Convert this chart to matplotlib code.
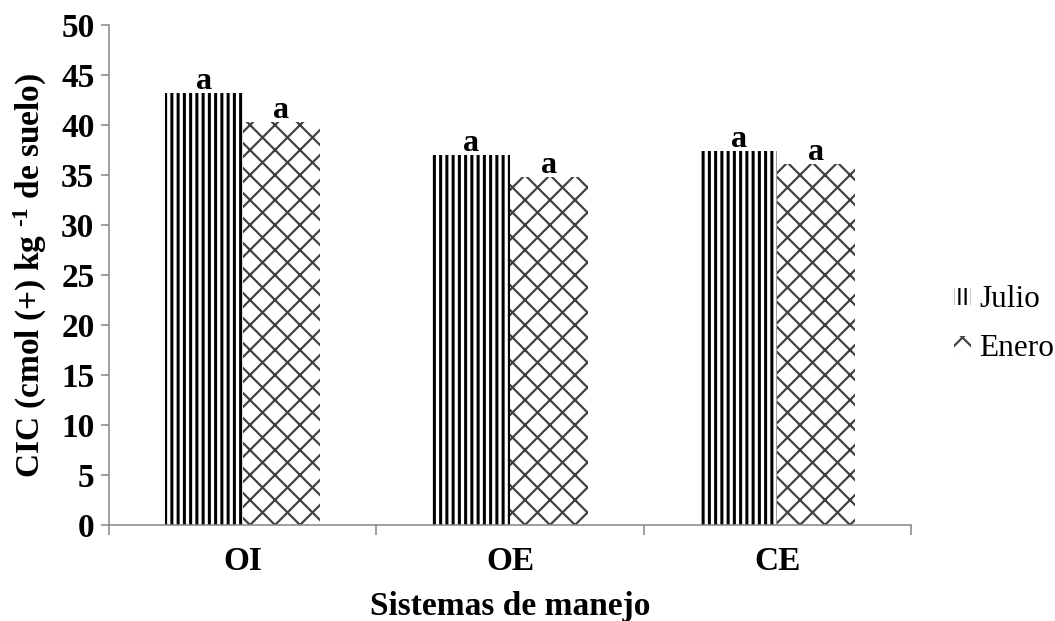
import matplotlib
matplotlib.use("Agg")
import matplotlib.pyplot as plt
import numpy as np
from matplotlib.patches import Patch

# data
sistemas = ["OI", "OE", "CE"]
julio = [43.2, 37.0, 37.4]
enero = [40.3, 34.8, 36.1]
letras_julio = ["a", "a", "a"]
letras_enero = ["a", "a", "a"]
series = ["Julio", "Enero"]

plt.rcParams["font.family"] = ["Liberation Serif", "DejaVu Serif"]
plt.rcParams["font.weight"] = "bold"
plt.rcParams["mathtext.fontset"] = "custom"
plt.rcParams["mathtext.rm"] = "Liberation Serif:bold"
plt.rcParams["mathtext.bf"] = "Liberation Serif:bold"
plt.rcParams["mathtext.it"] = "Liberation Serif:bold"
plt.rcParams["hatch.linewidth"] = 1.05

# dpi 150 so the hatch spacing comes out like the original
DPI = 150
fig = plt.figure(figsize=(1055 / DPI, 621 / DPI), dpi=DPI)
ax = fig.add_axes([109 / 1055, 1 - 525 / 621, 802 / 1055, 500 / 621])

x = np.arange(len(sistemas))
w = 0.29
hatch_j = "||||"
hatch_e = "xx"
with plt.rc_context({"hatch.linewidth": 1.45}):
    ax.bar(x - w / 2, julio, w, color="white", edgecolor="black", hatch=hatch_j, linewidth=0)
    h_j = Patch(facecolor="white", edgecolor="black", hatch=hatch_j, linewidth=0)
ax.bar(x + w / 2, enero, w, color="white", edgecolor="#404040", hatch=hatch_e, linewidth=0)
h_e = Patch(facecolor="white", edgecolor="#404040", hatch=hatch_e, linewidth=0)

for i in range(len(sistemas)):
    ax.text(x[i] - w / 2, julio[i] + 0.4, letras_julio[i], ha="center", va="baseline",
            fontsize=15.5, fontweight="bold")
    ax.text(x[i] + w / 2, enero[i] + 0.4, letras_enero[i], ha="center", va="baseline",
            fontsize=15.5, fontweight="bold")

ax.set_xlim(-0.5, 2.5)
ax.set_ylim(0, 50)
ax.set_yticks(np.arange(0, 51, 5))
ax.set_xticks(x)
ax.set_xticklabels(sistemas)
ax.set_xticks(np.arange(-0.5, 2.6, 1), minor=True)
ax.tick_params(axis="x", which="major", length=0, pad=10, labelsize=16)
ax.tick_params(axis="x", which="minor", length=5, color="#888888", width=0.75)
ax.tick_params(axis="y", length=4, color="#888888", width=0.75, labelsize=16, pad=3)

for s in ["top", "right"]:
    ax.spines[s].set_visible(False)
for s in ["left", "bottom"]:
    ax.spines[s].set_color("#888888")
    ax.spines[s].set_linewidth(0.75)

ax.set_xlabel("Sistemas de manejo", fontsize=16, fontweight="bold", labelpad=7)
ax.set_ylabel(r"CIC (cmol (+) kg $^{\text{-1}}$ de suelo)", fontsize=16, fontweight="bold", labelpad=6)

fig.legend([h_j, h_e], series, loc="center left", bbox_to_anchor=(954 / 1055, 1 - 324 / 621),
           frameon=False, handlelength=0.55, handleheight=0.45, handletextpad=0.25,
           labelspacing=0.62, borderpad=0, borderaxespad=0,
           prop={"family": "Liberation Serif", "weight": "normal", "size": 15})

fig.savefig("out.png", dpi=DPI)
